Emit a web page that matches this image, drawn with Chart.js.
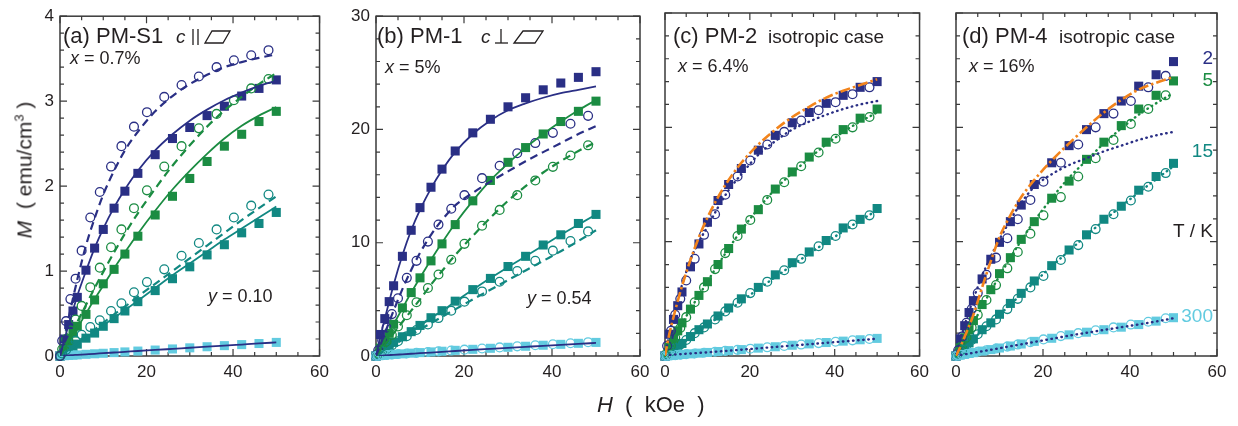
<!DOCTYPE html>
<html>
<head>
<meta charset="utf-8">
<script src="https://cdn.jsdelivr.net/npm/chart.js@4.4.1/dist/chart.umd.min.js"></script>
<style>
body { margin: 0; background: #fff; width: 1238px; height: 426px; overflow: hidden; position: relative;
       font-family: "Liberation Sans", Arial, sans-serif; color: #231f20; }
canvas { position: absolute; top: 0; }
.ttl { position: absolute; white-space: pre; line-height: 1; }
.ttl sup { font-size: 13px; vertical-align: 8px; line-height: 0; }
</style>
</head>
<body>
<canvas id="pa" width="335" height="426" style="left:0px"></canvas>
<canvas id="pb" width="328" height="426" style="left:332px"></canvas>
<canvas id="pc" width="310" height="426" style="left:625px"></canvas>
<canvas id="pd" width="322" height="426" style="left:916px"></canvas>
<div class="ttl" style="left:24px;top:170px;font-size:21px;transform:translate(-50%,-50%) rotate(-90deg)"><i>M</i>  ( emu/cm<sup>3</sup> )</div>
<div class="ttl" style="left:597px;top:394px;font-size:22px"><i>H</i>  (  kOe  )</div>
<script>
// field grids (kOe)
const H_SQ  = [0, 1, 2, 3, 4, 6, 8, 10, 12.5, 15, 18, 22, 26, 30, 34, 38, 42, 46, 50];
const H_CI  = [0, 0.5, 1.4, 2.4, 3.6, 5, 7, 9.2, 11.8, 14.2, 17.1, 20.1, 24.1, 28.1, 32.1, 36.2, 40.2, 44.2, 48.2];
const H_FIT = [0, 1, 2, 3, 4, 6, 8, 10, 12.5, 15, 18, 22, 26, 30, 34, 38, 42, 46, 50];

const X_TICKS = [0, 20, 40, 60];
const A_Y_TICKS = [0, 1, 2, 3, 4];
const B_Y_TICKS = [0, 10, 20, 30];

// (a) PM-S1
const a_sq2  = [0, 0.20, 0.37, 0.53, 0.69, 1.01, 1.27, 1.49, 1.74, 1.94, 2.15, 2.37, 2.56, 2.69, 2.83, 2.94, 3.06, 3.15, 3.25];
const a_ci2  = [0, 0.18, 0.41, 0.67, 0.91, 1.24, 1.63, 1.93, 2.23, 2.47, 2.70, 2.87, 3.05, 3.19, 3.29, 3.40, 3.48, 3.54, 3.60];
const a_sq5  = [0, 0.09, 0.18, 0.27, 0.35, 0.49, 0.66, 0.85, 1.02, 1.20, 1.41, 1.66, 1.88, 2.09, 2.29, 2.47, 2.61, 2.76, 2.88];
const a_ci5  = [0, 0.08, 0.20, 0.30, 0.43, 0.59, 0.81, 1.04, 1.28, 1.49, 1.74, 1.95, 2.23, 2.47, 2.68, 2.85, 3.01, 3.15, 3.26];
const a_sq15 = [0, 0.03, 0.07, 0.10, 0.14, 0.21, 0.27, 0.35, 0.44, 0.53, 0.64, 0.77, 0.91, 1.05, 1.19, 1.31, 1.45, 1.56, 1.69];
const a_ci15 = [0, 0.03, 0.07, 0.12, 0.18, 0.25, 0.34, 0.42, 0.53, 0.62, 0.75, 0.87, 1.02, 1.18, 1.33, 1.49, 1.63, 1.77, 1.90];
const a_sq300 = [0, 0.004, 0.007, 0.01, 0.013, 0.02, 0.026, 0.032, 0.04, 0.048, 0.058, 0.07, 0.083, 0.096, 0.109, 0.122, 0.134, 0.147, 0.16];
const a_fit2s  = [0, 0.19, 0.37, 0.54, 0.71, 1.00, 1.27, 1.50, 1.75, 1.96, 2.18, 2.42, 2.61, 2.77, 2.90, 3.01, 3.10, 3.18, 3.24];
const a_fit2d  = [0, 0.22, 0.45, 0.68, 0.90, 1.30, 1.62, 1.90, 2.18, 2.42, 2.64, 2.88, 3.06, 3.20, 3.31, 3.40, 3.46, 3.51, 3.55];
const a_fit5s  = [0, 0.08, 0.17, 0.25, 0.33, 0.50, 0.67, 0.83, 1.03, 1.22, 1.44, 1.71, 1.96, 2.18, 2.38, 2.56, 2.71, 2.83, 2.93];
const a_fit5d  = [0, 0.10, 0.20, 0.30, 0.40, 0.60, 0.80, 0.99, 1.22, 1.44, 1.68, 1.97, 2.24, 2.48, 2.70, 2.89, 3.05, 3.20, 3.33];
const a_fit15s = [0, 0.03, 0.07, 0.10, 0.14, 0.21, 0.28, 0.36, 0.45, 0.54, 0.65, 0.80, 0.95, 1.09, 1.23, 1.37, 1.50, 1.63, 1.76];
const a_fit15d = [0, 0.04, 0.08, 0.12, 0.16, 0.24, 0.31, 0.39, 0.49, 0.58, 0.70, 0.85, 1.00, 1.15, 1.30, 1.45, 1.60, 1.74, 1.88];
const a_fit300 = [0, 0.005, 0.008, 0.011, 0.014, 0.02, 0.026, 0.033, 0.041, 0.049, 0.059, 0.071, 0.084, 0.097, 0.11, 0.122, 0.135, 0.148, 0.16];

// (b) PM-1
const b_sq2  = [0, 1.9, 3.3, 4.8, 6.2, 8.8, 11.1, 13.1, 14.9, 16.5, 18.1, 19.7, 20.9, 22.0, 22.8, 23.5, 24.1, 24.6, 25.1];
const b_ci2  = [0, 0.5, 1.4, 2.5, 3.7, 5.1, 6.9, 8.4, 10.1, 11.6, 13.0, 14.2, 15.7, 16.8, 17.9, 18.8, 19.7, 20.5, 21.2];
const b_sq5  = [0, 0.7, 1.4, 2.0, 2.8, 4.25, 5.6, 6.9, 8.4, 9.9, 11.6, 13.7, 15.5, 17.1, 18.4, 19.6, 20.7, 21.6, 22.5];
const b_ci5  = [0, 0.25, 0.7, 1.25, 1.85, 2.6, 3.6, 4.75, 6.0, 7.2, 8.5, 9.9, 11.5, 12.9, 14.2, 15.5, 16.7, 17.7, 18.6];
const b_sq15 = [0, 0.3, 0.6, 0.9, 1.2, 1.7, 2.15, 2.7, 3.38, 4.0, 4.84, 5.86, 6.85, 7.9, 8.8, 9.8, 10.7, 11.7, 12.5];
const b_ci15 = [0, 0.13, 0.38, 0.62, 0.93, 1.3, 1.75, 2.3, 2.78, 3.35, 4.0, 4.8, 5.7, 6.56, 7.5, 8.4, 9.3, 10.15, 11.0];
const b_sq300 = [0, 0.05, 0.08, 0.11, 0.14, 0.19, 0.25, 0.3, 0.36, 0.42, 0.5, 0.59, 0.68, 0.77, 0.86, 0.95, 1.03, 1.12, 1.2];
const b_ci300 = [0, 0.03, 0.06, 0.09, 0.13, 0.17, 0.22, 0.28, 0.35, 0.41, 0.48, 0.56, 0.66, 0.76, 0.85, 0.95, 1.04, 1.13, 1.22];
const b_fit2s  = [0, 1.7, 3.3, 4.8, 6.3, 8.9, 11.1, 12.9, 14.8, 16.4, 18.0, 19.6, 20.8, 21.7, 22.3, 22.8, 23.2, 23.5, 23.8];
const b_fit2d  = [0, 1.0, 2.0, 3.0, 4.0, 5.9, 7.6, 9.1, 10.7, 12.0, 13.3, 14.4, 15.4, 16.3, 17.2, 18.0, 18.8, 19.6, 20.3];
const b_fit5s  = [0, 0.7, 1.4, 2.1, 2.8, 4.2, 5.6, 6.9, 8.5, 10.0, 11.7, 13.7, 15.5, 17.0, 18.4, 19.6, 20.7, 21.7, 22.6];
const b_fit5d  = [0, 0.5, 1.0, 1.5, 2.0, 3.0, 4.0, 5.0, 6.3, 7.5, 8.9, 10.6, 12.2, 13.7, 15.0, 16.2, 17.2, 18.1, 18.9];
const b_fit15s = [0, 0.27, 0.55, 0.82, 1.1, 1.62, 2.15, 2.68, 3.33, 3.98, 4.8, 5.85, 6.88, 7.85, 8.8, 9.75, 10.7, 11.6, 12.5];
const b_fit15d = [0, 0.24, 0.48, 0.72, 0.96, 1.42, 1.88, 2.34, 2.9, 3.46, 4.12, 5.0, 5.85, 6.7, 7.55, 8.4, 9.25, 10.15, 11.1];
const b_fit300 = [0, 0.03, 0.06, 0.08, 0.1, 0.15, 0.2, 0.25, 0.3, 0.36, 0.44, 0.54, 0.63, 0.72, 0.81, 0.9, 0.98, 1.07, 1.15];

// (c) PM-2
const c_sq2  = [0, 1.9, 3.2, 4.4, 5.6, 7.8, 9.8, 11.7, 13.6, 15.0, 16.4, 18.0, 19.3, 20.4, 21.3, 22.1, 22.8, 23.5, 24.0];
const c_ci2  = [0, 0.9, 2.2, 3.6, 5.0, 6.6, 8.5, 10.6, 12.4, 14.1, 15.7, 17.1, 18.5, 19.6, 20.6, 21.5, 22.2, 22.9, 23.5];
const c_sq5  = [0, 0.75, 1.5, 2.2, 2.9, 4.1, 5.3, 6.5, 8.0, 9.4, 11.1, 12.8, 14.6, 16.1, 17.4, 18.7, 19.8, 20.8, 21.6];
const c_ci5  = [0, 0.3, 0.9, 1.6, 2.45, 3.4, 4.7, 6.0, 7.6, 9.0, 10.5, 11.9, 13.65, 15.2, 16.6, 17.8, 19.0, 20.0, 20.9];
const c_sq15 = [0, 0.28, 0.55, 0.83, 1.1, 1.7, 2.3, 2.8, 3.5, 4.2, 5.0, 6.0, 7.1, 8.16, 9.1, 10.1, 11.2, 11.95, 12.9];
const c_ci15 = [0, 0.14, 0.4, 0.68, 1.0, 1.4, 2.0, 2.5, 3.2, 3.9, 4.66, 5.5, 6.5, 7.5, 8.5, 9.6, 10.5, 11.5, 12.3];
const c_sq300 = [0, 0.04, 0.07, 0.1, 0.13, 0.19, 0.25, 0.31, 0.39, 0.47, 0.56, 0.69, 0.81, 0.94, 1.06, 1.18, 1.3, 1.42, 1.54];
const c_ci300 = [0, 0.02, 0.05, 0.08, 0.12, 0.16, 0.22, 0.29, 0.37, 0.45, 0.54, 0.64, 0.76, 0.88, 1.0, 1.13, 1.25, 1.37, 1.49];
const c_fitOr   = [0, 1.9, 3.4, 4.8, 6.1, 8.4, 10.4, 12.1, 13.9, 15.4, 16.9, 18.5, 19.8, 20.9, 21.8, 22.6, 23.2, 23.7, 24.2];
const c_fit2dot = [0, 1.9, 3.5, 4.9, 6.2, 8.4, 10.0, 11.3, 13.0, 14.5, 15.9, 17.6, 18.8, 19.8, 20.5, 21.1, 21.6, 22.0, 22.3];
const c_fit5dot = [0, 0.7, 1.4, 2.1, 2.8, 4.1, 5.3, 6.5, 8.0, 9.4, 11.0, 12.9, 14.6, 16.0, 17.3, 18.5, 19.6, 20.5, 21.3];
const c_fit15dot = [0, 0.27, 0.54, 0.81, 1.08, 1.62, 2.16, 2.7, 3.36, 4.0, 4.8, 5.86, 6.9, 7.95, 8.95, 9.95, 10.9, 11.85, 12.75];
const c_fit300  = [0, 0.08, 0.12, 0.14, 0.17, 0.22, 0.27, 0.32, 0.39, 0.46, 0.55, 0.67, 0.79, 0.91, 1.03, 1.15, 1.27, 1.39, 1.51];

// (d) PM-4
const d_sq2  = [0, 1.5, 2.65, 3.8, 4.84, 6.74, 8.46, 9.94, 11.75, 13.2, 15.0, 16.9, 18.4, 19.8, 21.2, 22.3, 23.6, 24.6, 25.75];
const d_ci2  = [0, 0.5, 1.7, 2.9, 4.1, 5.5, 7.1, 8.6, 10.3, 11.96, 13.65, 15.25, 16.9, 18.5, 20.0, 21.2, 22.3, 23.5, 24.5];
const d_sq5  = [0, 0.8, 1.6, 2.3, 3.1, 4.5, 5.8, 7.2, 8.6, 10.2, 11.75, 13.8, 15.3, 17.2, 18.7, 20.15, 21.6, 22.8, 24.06];
const d_ci5  = [0, 0.3, 0.9, 1.6, 2.5, 3.6, 4.9, 6.2, 7.67, 9.1, 10.7, 12.3, 13.9, 15.7, 17.3, 18.9, 20.3, 21.6, 22.8];
const d_sq15 = [0, 0.4, 0.8, 1.15, 1.5, 2.3, 2.9, 3.65, 4.6, 5.48, 6.56, 7.9, 9.27, 10.6, 11.96, 13.1, 14.5, 15.7, 16.85];
const d_ci15 = [0, 0.2, 0.55, 0.95, 1.4, 1.9, 2.6, 3.2, 4.1, 5.0, 6.0, 7.0, 8.4, 9.7, 11.1, 12.4, 13.6, 14.8, 16.0];
const d_sq300 = [0, 0.08, 0.15, 0.22, 0.29, 0.43, 0.56, 0.7, 0.87, 1.05, 1.28, 1.55, 1.85, 2.08, 2.3, 2.52, 2.75, 3.05, 3.35];
const d_ci300 = [0, 0.04, 0.11, 0.18, 0.27, 0.37, 0.5, 0.65, 0.82, 1.0, 1.2, 1.45, 1.74, 2.0, 2.25, 2.5, 2.75, 3.0, 3.3];
const d_fitOr   = [0, 0.8, 1.7, 2.6, 3.6, 6.0, 8.3, 10.4, 12.3, 13.9, 15.4, 17.1, 18.6, 20.0, 21.3, 22.4, 23.3, 23.9, 24.4];
const d_fit2dot = [0, 1.4, 2.7, 3.9, 5.0, 7.0, 8.7, 10.2, 11.9, 13.4, 14.8, 15.9, 16.7, 17.3, 17.9, 18.4, 18.9, 19.3, 19.6];
const d_fit5dot = [0, 0.7, 1.5, 2.2, 2.9, 4.3, 5.7, 7.0, 8.6, 10.1, 11.8, 13.8, 15.6, 17.1, 18.6, 19.9, 21.1, 22.1, 23.0];
const d_fit15dot = [0, 0.38, 0.76, 1.12, 1.5, 2.2, 2.9, 3.6, 4.5, 5.4, 6.45, 7.85, 9.2, 10.55, 11.85, 13.1, 14.3, 15.45, 16.6];
const d_fit300  = [0, 0.07, 0.14, 0.21, 0.28, 0.41, 0.54, 0.68, 0.85, 1.02, 1.23, 1.5, 1.78, 2.03, 2.28, 2.52, 2.76, 3.02, 3.3];

const NAVY = '#2a2f85', GREEN = '#1b8c42', TEAL = '#118882', CYAN = '#62cbe0', ORANGE = '#f2841c';
const INK = '#231f20', FRAME = '#3a3a3a';
const FONT = '"Liberation Sans", Arial, sans-serif';

const DASH = [8, 5], DOT = [0.5, 4.6], DASHDOT = [10, 3, 2.5, 3];

function pts(xs, ys) { return xs.map((x, i) => ({ x: x, y: ys[i] })); }
function sq(xs, ys, c) {
    return { data: pts(xs, ys), showLine: false, pointStyle: 'rect', pointRadius: 6.4, backgroundColor: c,
             borderColor: c, borderWidth: 0, order: 3, clip: false };
}
function ci(xs, ys, c) {
    return { data: pts(xs, ys), showLine: false, pointStyle: 'circle', pointRadius: 4.4,
             backgroundColor: 'rgba(0,0,0,0)', borderColor: c, borderWidth: 1.3, order: 2, clip: false };
}
function ln(xs, ys, c, dash, w) {
    return { data: pts(xs, ys), showLine: true, pointRadius: 0, borderColor: c, borderWidth: w,
             borderDash: dash, borderCapStyle: dash === DOT ? 'round' : 'butt',
             cubicInterpolationMode: 'monotone', fill: false, order: 0 };
}

const panelPlugin = {
    id: 'panel',
    beforeDatasetsDraw(chart, args, o) {
        const { ctx, chartArea: a, scales: { x, y } } = chart;
        ctx.save();
        ctx.strokeStyle = FRAME;
        ctx.lineWidth = 1.5;
        ctx.strokeRect(a.left, a.top, a.right - a.left, a.bottom - a.top);
        ctx.lineWidth = 1.2;
        ctx.beginPath();
        const nx = Math.round((x.max - x.min) / o.minorX);
        for (let i = 0; i <= nx; i++) {
            const v = x.min + i * o.minorX, p = x.getPixelForValue(v);
            const L = Math.abs(v / 20 - Math.round(v / 20)) < 1e-6 ? 7 : 4;
            ctx.moveTo(p, a.bottom); ctx.lineTo(p, a.bottom - L);
            ctx.moveTo(p, a.top); ctx.lineTo(p, a.top + L);
        }
        const ny = Math.round((y.max - y.min) / o.minorY);
        for (let i = 0; i <= ny; i++) {
            const v = y.min + i * o.minorY, p = y.getPixelForValue(v);
            const L = Math.abs(v / o.majorY - Math.round(v / o.majorY)) < 1e-6 ? 7 : 4;
            ctx.moveTo(a.left, p); ctx.lineTo(a.left + L, p);
            ctx.moveTo(a.right, p); ctx.lineTo(a.right - L, p);
        }
        ctx.stroke();
        ctx.restore();
    },
    afterDraw(chart, args, o) {
        const ctx = chart.ctx, dx = o.left;
        ctx.save();
        ctx.textBaseline = 'alphabetic';
        (o.notes || []).forEach(n => {
            let w = 0;
            n.parts.forEach(p => { ctx.font = p[1]; w += ctx.measureText(p[0]).width; });
            let cx = (n.align === 'right' ? n.x - w : n.x) - dx;
            n.parts.forEach(p => {
                ctx.font = p[1];
                ctx.fillStyle = p[2] || INK;
                ctx.fillText(p[0], cx, n.y);
                cx += ctx.measureText(p[0]).width;
            });
        });
        ctx.strokeStyle = INK;
        ctx.lineWidth = 1.3;
        (o.shapes || []).forEach(s => {
            ctx.beginPath();
            s.pts.forEach((q, i) => i ? ctx.lineTo(q[0] - dx, q[1]) : ctx.moveTo(q[0] - dx, q[1]));
            if (s.closed) ctx.closePath();
            ctx.stroke();
        });
        ctx.restore();
    }
};

function makePanel(id, left, yAxisW, padRight, yMax, yTicks, showY, minorY, datasets, notes, shapes) {
    return new Chart(document.getElementById(id), {
        type: 'scatter',
        data: { datasets: datasets },
        options: {
            responsive: false,
            animation: false,
            events: [],
            layout: { padding: { top: 13, right: padRight, left: 0, bottom: 0 } },
            scales: {
                x: {
                    type: 'linear', min: 0, max: 60,
                    afterBuildTicks: s => { s.ticks = X_TICKS.map(v => ({ value: v })); },
                    afterFit: s => { s.height = 70; },
                    ticks: { font: { family: FONT, size: 17 }, color: INK, padding: 6, maxRotation: 0 },
                    grid: { display: false, drawTicks: false },
                    border: { display: false }
                },
                y: {
                    type: 'linear', min: 0, max: yMax,
                    afterBuildTicks: s => { s.ticks = yTicks.map(v => ({ value: v })); },
                    afterFit: s => { s.width = yAxisW; },
                    ticks: { display: showY, font: { family: FONT, size: 17 }, color: INK, padding: 6 },
                    grid: { display: false, drawTicks: false },
                    border: { display: false }
                }
            },
            plugins: {
                legend: { display: false },
                tooltip: { enabled: false },
                panel: { left: left, minorX: 5, minorY: minorY, majorY: yTicks[1] - yTicks[0], notes: notes, shapes: shapes }
            }
        },
        plugins: [panelPlugin]
    });
}

const F22 = '22px ' + FONT, F19I = 'italic 19px ' + FONT;
const F18 = '18px ' + FONT, F18I = 'italic 18px ' + FONT;
const F19 = '19px ' + FONT;

makePanel('pa', 0, 60, 14, 4, A_Y_TICKS, true, 0.2, [
    ln(H_FIT, a_fit2s, NAVY, [], 1.8),
    ln(H_FIT, a_fit2d, NAVY, DASH, 2.2),
    ln(H_FIT, a_fit5s, GREEN, [], 1.8),
    ln(H_FIT, a_fit5d, GREEN, DASH, 2.2),
    ln(H_FIT, a_fit15s, TEAL, [], 1.8),
    ln(H_FIT, a_fit15d, TEAL, DASH, 2.2),
    ln(H_FIT, a_fit300, NAVY, [], 1.8),
    sq(H_SQ, a_sq300, CYAN),
    sq(H_SQ, a_sq2, NAVY), ci(H_CI, a_ci2, NAVY),
    sq(H_SQ, a_sq5, GREEN), ci(H_CI, a_ci5, GREEN),
    sq(H_SQ, a_sq15, TEAL), ci(H_CI, a_ci15, TEAL)
], [
    { x: 63, y: 43, parts: [['(a) PM-S1', F22]] },
    { x: 176, y: 43, parts: [['c', F19I]] },
    { x: 70, y: 64, parts: [['x', F18I], [' = 0.7%', F18]] },
    { x: 208, y: 302, parts: [['y', F18I], [' = 0.10', F18]] }
], [
    { pts: [[193, 29], [193, 45]] },
    { pts: [[198, 29], [198, 45]] },
    { pts: [[212, 31], [230, 31], [223, 43], [205, 43]], closed: true }
]);

makePanel('pb', 332, 44, 20, 30, B_Y_TICKS, true, 2, [
    ln(H_FIT, b_fit2s, NAVY, [], 1.8),
    ln(H_FIT, b_fit2d, NAVY, DASH, 2.2),
    ln(H_FIT, b_fit5s, GREEN, [], 1.8),
    ln(H_FIT, b_fit5d, GREEN, DASH, 2.2),
    ln(H_FIT, b_fit15s, TEAL, [], 1.8),
    ln(H_FIT, b_fit15d, TEAL, DASH, 2.2),
    ln(H_FIT, b_fit300, NAVY, [], 1.8),
    sq(H_SQ, b_sq300, CYAN), ci(H_CI, b_ci300, CYAN),
    sq(H_SQ, b_sq2, NAVY), ci(H_CI, b_ci2, NAVY),
    sq(H_SQ, b_sq5, GREEN), ci(H_CI, b_ci5, GREEN),
    sq(H_SQ, b_sq15, TEAL), ci(H_CI, b_ci15, TEAL)
], [
    { x: 377, y: 43, parts: [['(b) PM-1', F22]] },
    { x: 481, y: 43, parts: [['c', F19I]] },
    { x: 385, y: 73, parts: [['x', F18I], [' = 5%', F18]] },
    { x: 527, y: 304, parts: [['y', F18I], [' = 0.54', F18]] }
], [
    { pts: [[501, 29], [501, 43]] },
    { pts: [[495, 43], [508, 43]] },
    { pts: [[523, 31], [543, 31], [535, 43], [514, 43]], closed: true }
]);

makePanel('pc', 625, 40, 9, 30, B_Y_TICKS, false, 2, [
    ln(H_FIT, c_fitOr, ORANGE, DASHDOT, 2.6),
    ln(H_FIT, c_fit2dot, NAVY, DOT, 2.4),
    ln(H_FIT, c_fit5dot, GREEN, DOT, 2.4),
    ln(H_FIT, c_fit15dot, TEAL, DOT, 2.4),
    ln(H_FIT, c_fit300, NAVY, DOT, 2.4),
    sq(H_SQ, c_sq300, CYAN), ci(H_CI, c_ci300, CYAN),
    sq(H_SQ, c_sq2, NAVY), ci(H_CI, c_ci2, NAVY),
    sq(H_SQ, c_sq5, GREEN), ci(H_CI, c_ci5, GREEN),
    sq(H_SQ, c_sq15, TEAL), ci(H_CI, c_ci15, TEAL)
], [
    { x: 673, y: 43, parts: [['(c) PM-2', F22]] },
    { x: 768, y: 43, parts: [['isotropic case', F19]] },
    { x: 678, y: 72, parts: [['x', F18I], [' = 6.4%', F18]] }
], []);

makePanel('pd', 916, 40, 21, 30, B_Y_TICKS, false, 2, [
    ln(H_FIT, d_fitOr, ORANGE, DASHDOT, 2.6),
    ln(H_FIT, d_fit2dot, NAVY, DOT, 2.4),
    ln(H_FIT, d_fit5dot, GREEN, DOT, 2.4),
    ln(H_FIT, d_fit15dot, TEAL, DOT, 2.4),
    ln(H_FIT, d_fit300, NAVY, DOT, 2.4),
    sq(H_SQ, d_sq300, CYAN), ci(H_CI, d_ci300, CYAN),
    sq(H_SQ, d_sq2, NAVY), ci(H_CI, d_ci2, NAVY),
    sq(H_SQ, d_sq5, GREEN), ci(H_CI, d_ci5, GREEN),
    sq(H_SQ, d_sq15, TEAL), ci(H_CI, d_ci15, TEAL)
], [
    { x: 962, y: 43, parts: [['(d) PM-4', F22]] },
    { x: 1059, y: 43, parts: [['isotropic case', F19]] },
    { x: 969, y: 72, parts: [['x', F18I], [' = 16%', F18]] },
    { x: 1213, y: 64, align: 'right', parts: [['2', F19, NAVY]] },
    { x: 1213, y: 86, align: 'right', parts: [['5', F19, GREEN]] },
    { x: 1213, y: 157, align: 'right', parts: [['15', F19, TEAL]] },
    { x: 1213, y: 237, align: 'right', parts: [['T / K', F19]] },
    { x: 1213, y: 322, align: 'right', parts: [['300', F19, CYAN]] }
], []);
</script>
</body>
</html>
